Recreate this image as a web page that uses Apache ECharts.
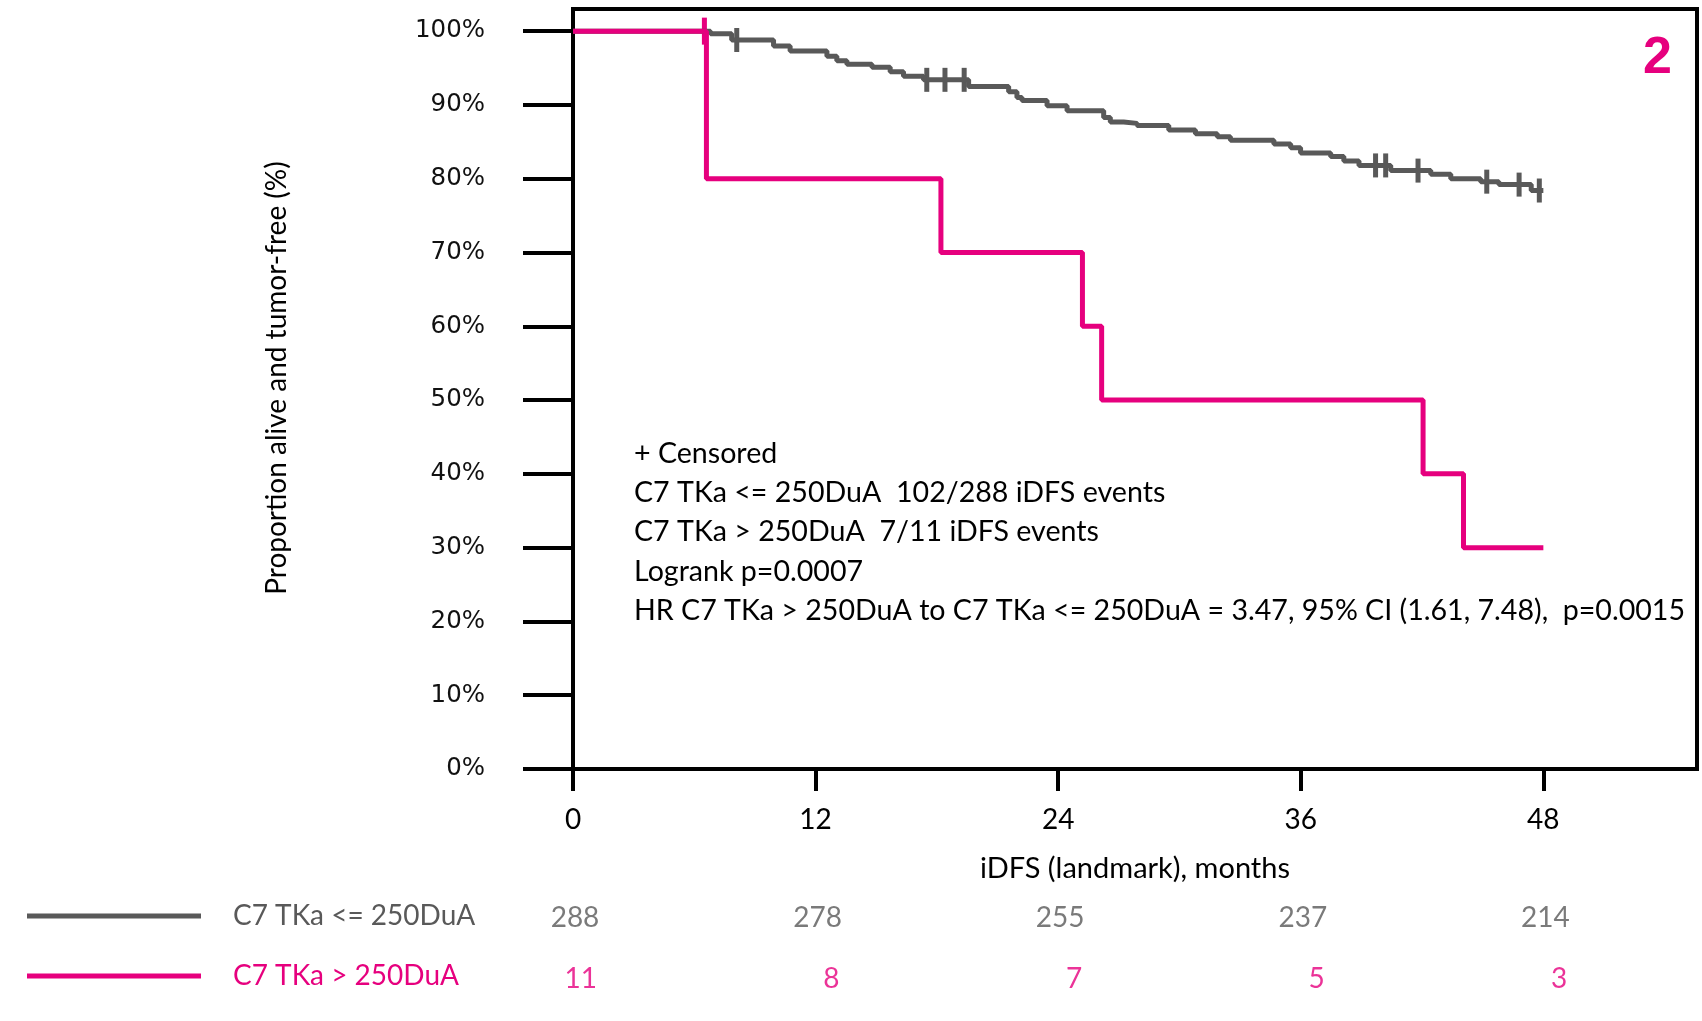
<!DOCTYPE html>
<html>
<head>
<meta charset="utf-8">
<script src="https://cdn.jsdelivr.net/npm/echarts@6/dist/echarts.min.js"></script>
<style>
  html, body { margin: 0; padding: 0; background: #fff; }
  #chart { width: 1702px; height: 1021px; }
</style>
</head>
<body>
<div id="chart"></div>
<script>
// KM curve, C7 TKa <= 250DuA (gray)
var grayTimes = [0, 6.8, 7.85, 9.92, 10.74, 12.56, 13.05, 13.55, 14.79, 15.69, 16.35, 17.34, 19.57,
  21.55, 21.96, 22.21, 23.45, 24.44, 26.25, 26.58, 27.24, 27.9, 29.47, 30.79, 31.87, 32.52, 34.67,
  35.5, 35.99, 37.48, 38.13, 38.88, 40.45, 42.43, 43.42, 44.9, 45.8, 47.4, 48];
var graySurv = [100, 99.65, 98.8, 98.0, 97.3, 96.6, 96.0, 95.5, 95.1, 94.5, 93.9, 93.4, 92.5,
  91.8, 91.0, 90.6, 89.9, 89.2, 88.3, 87.7, 87.5, 87.2, 86.6, 86.1, 85.7, 85.2, 84.7,
  84.2, 83.5, 83.0, 82.4, 81.8, 81.1, 80.6, 80.0, 79.6, 79.2, 78.4, 78.4];
var grayCensTimes = [8.1, 17.5, 18.4, 19.35, 39.7, 40.2, 41.8, 45.2, 46.8, 47.8];
var grayCensSurv = [98.8, 93.4, 93.4, 93.4, 81.8, 81.8, 81.1, 79.6, 79.2, 78.4];

// KM curve, C7 TKa > 250DuA (pink)
var pinkTimes = [0, 6.6, 18.2, 25.2, 26.15, 42.05, 44.05, 48];
var pinkSurv = [100, 80, 70, 60, 50, 40, 30, 30];
var pinkCensTimes = [6.5];
var pinkCensSurv = [100];

// numbers at risk
var riskTimes = [0, 12, 24, 36, 48];
var grayRisk = [288, 278, 255, 237, 214];
var pinkRisk = [11, 8, 7, 5, 3];

var xTicks = [0, 12, 24, 36, 48];
var yTicks = [0, 10, 20, 30, 40, 50, 60, 70, 80, 90, 100];

var grayName = 'C7 TKa <= 250DuA';
var pinkName = 'C7 TKa > 250DuA';
var GRAY = '#595959', PINK = '#E6007E';
var TXT = 'Lato, "Open Sans", sans-serif';

var notes = [
  '+ Censored',
  'C7 TKa <= 250DuA  102/288 iDFS events',
  'C7 TKa > 250DuA  7/11 iDFS events',
  'Logrank p=0.0007',
  'HR C7 TKa > 250DuA to C7 TKa <= 250DuA = 3.47, 95% CI (1.61, 7.48),  p=0.0015'
];

function zip(a, b) { return a.map(function (v, i) { return [v, b[i]]; }); }

var myChart = echarts.init(document.getElementById('chart'));

var option = {
  animation: false,
  backgroundColor: '#fff',
  grid: [
    { left: 573, right: 5, top: 9, bottom: 252, show: true, borderColor: '#000', borderWidth: 4,
      outerBoundsMode: 'none' },
    { left: 573, right: 5, top: 887, height: 122, outerBoundsMode: 'none' }
  ],
  legend: {
    orient: 'vertical', left: 22, top: 896, itemGap: 30,
    itemWidth: 174, itemHeight: 5, icon: 'rect', selectedMode: false,
    textStyle: { fontFamily: TXT, fontSize: 28, lineHeight: 30, padding: [0, 0, 0, 27] },
    data: [
      { name: grayName, textStyle: { color: GRAY } },
      { name: pinkName, textStyle: { color: PINK } }
    ]
  },
  xAxis: [
    {
      type: 'value', gridIndex: 0, min: 0, max: 55.6,
      name: 'iDFS (landmark), months', nameLocation: 'middle', nameGap: 85,
      nameTextStyle: { fontFamily: TXT, fontSize: 29, color: '#000' },
      splitLine: { show: false },
      axisLine: { show: true, lineStyle: { color: '#000', width: 4 } },
      axisTick: { show: true, customValues: xTicks, length: 22, lineStyle: { color: '#000', width: 4 } },
      axisLabel: { customValues: xTicks, margin: 37, fontFamily: TXT, fontSize: 28, color: '#000' }
    },
    { type: 'value', gridIndex: 1, min: 0, max: 55.6, show: false }
  ],
  yAxis: [
    {
      type: 'value', gridIndex: 0, min: 0, max: 103,
      name: 'Proportion alive and tumor-free (%)', nameLocation: 'middle', nameRotate: 90, nameGap: 282,
      nameTextStyle: { fontFamily: TXT, fontSize: 28, color: '#000', padding: [0, 0, 0, 22] },
      splitLine: { show: false },
      axisLine: { show: true, lineStyle: { color: '#000', width: 4 } },
      axisTick: { show: true, customValues: yTicks, length: 50, lineStyle: { color: '#000', width: 4 } },
      axisLabel: {
        customValues: yTicks, margin: 88, fontFamily: '"DejaVu Sans", sans-serif', fontSize: 24.5, color: '#111',
        formatter: '{value}%'
      }
    },
    { type: 'category', gridIndex: 1, data: [grayName, pinkName], inverse: true, show: false }
  ],
  series: [
    {
      name: grayName, type: 'line', step: 'end', xAxisIndex: 0, yAxisIndex: 0,
      data: zip(grayTimes, graySurv), showSymbol: false, color: GRAY,
      lineStyle: { color: GRAY, width: 5 }
    },
    {
      name: 'gray censored', type: 'scatter', xAxisIndex: 0, yAxisIndex: 0,
      data: zip(grayCensTimes, grayCensSurv), symbol: 'rect', symbolSize: [5, 24],
      itemStyle: { color: GRAY, opacity: 1 }
    },
    {
      name: pinkName, type: 'line', step: 'end', xAxisIndex: 0, yAxisIndex: 0,
      data: zip(pinkTimes, pinkSurv), showSymbol: false, color: PINK,
      lineStyle: { color: PINK, width: 5 }
    },
    {
      name: 'pink censored', type: 'scatter', xAxisIndex: 0, yAxisIndex: 0,
      data: zip(pinkCensTimes, pinkCensSurv), symbol: 'rect', symbolSize: [5, 27],
      itemStyle: { color: PINK, opacity: 1 }
    },
    {
      name: 'risk gray', type: 'scatter', xAxisIndex: 1, yAxisIndex: 1,
      data: riskTimes.map(function (t, i) { return [t, grayName, grayRisk[i]]; }),
      symbolSize: 1, itemStyle: { color: 'transparent' },
      label: {
        show: true, position: 'inside', align: 'center', offset: [2, 0],
        formatter: function (p) { return p.value[2]; },
        fontFamily: TXT, fontSize: 28, color: GRAY
      }
    },
    {
      name: 'risk pink', type: 'scatter', xAxisIndex: 1, yAxisIndex: 1,
      data: riskTimes.map(function (t, i) { return [t, pinkName, pinkRisk[i]]; }),
      symbolSize: 1, itemStyle: { color: 'transparent' },
      label: {
        show: true, position: 'inside', align: 'right', offset: [24, 0],
        formatter: function (p) { return p.value[2]; },
        fontFamily: TXT, fontSize: 28, color: PINK
      }
    }
  ],
  graphic: [
    {
      type: 'group', left: 634, top: 439,
      children: notes.map(function (s, i) {
        return { type: 'text', x: 0, y: i * 39.3,
          style: { text: s, fontFamily: TXT, fontSize: 28.6, fill: '#000', verticalAlign: 'top' } };
      })
    },
    {
      type: 'text', right: 30, top: 33,
      style: { text: '2', fontFamily: '"Liberation Sans", Arial, sans-serif', fontWeight: 'bold',
        fontSize: 52, fill: PINK }
    }
  ]
};

myChart.setOption(option);
</script>
</body>
</html>
